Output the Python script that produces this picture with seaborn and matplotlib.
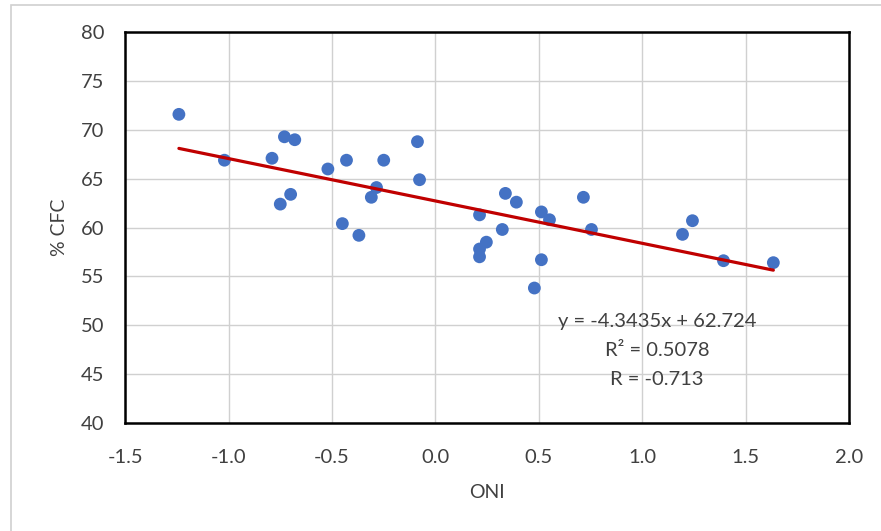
import matplotlib
matplotlib.use("Agg")
import matplotlib.pyplot as plt
import seaborn as sns
import numpy as np
import pandas as pd
from matplotlib.patches import Rectangle

# ---- data ----
oni = [-1.24, -1.02, -0.79, -0.75, -0.73, -0.70, -0.68, -0.52, -0.45, -0.43,
       -0.37, -0.31, -0.285, -0.25, -0.087, -0.077, 0.213, 0.213, 0.213, 0.246,
       0.323, 0.338, 0.391, 0.478, 0.512, 0.512, 0.551, 0.715, 0.754, 1.194,
       1.242, 1.392, 1.633]
cfc = [71.6, 66.9, 67.1, 62.4, 69.3, 63.4, 69.0, 66.0, 60.4, 66.9,
       59.2, 63.1, 64.1, 66.9, 68.8, 64.9, 61.3, 57.8, 57.0, 58.5,
       59.8, 63.5, 62.6, 53.8, 61.6, 56.7, 60.8, 63.1, 59.8, 59.3,
       60.7, 56.6, 56.4]
slope = -4.3435
intercept = 62.724
r_squared = 0.5078
r_value = -0.713
x_ticks = [-1.5, -1.0, -0.5, 0.0, 0.5, 1.0, 1.5, 2.0]
y_ticks = [40, 45, 50, 55, 60, 65, 70, 75, 80]

df = pd.DataFrame({"ONI": oni, "CFC": cfc})
trend_x = np.array([min(oni), max(oni)])
trend = pd.DataFrame({"ONI": trend_x, "CFC": slope * trend_x + intercept})

sns.set_theme(style="white")
plt.rcParams["font.family"] = ["Lato", "DejaVu Sans"]
txt = "#404040"

fig = plt.figure(figsize=(8.81, 5.31), dpi=100)
ax = fig.add_axes([0.142, 0.204, 0.822, 0.735])

# light outer frame
fig.patches.append(Rectangle((11 / 881, -0.05), 1.2, 1 - 5 / 531 + 0.05,
                             transform=fig.transFigure, fill=False,
                             edgecolor="#d0d0d0", linewidth=1.2, zorder=0))

sns.scatterplot(data=df, x="ONI", y="CFC", ax=ax, color="#4472C4", s=85,
                edgecolor="none", zorder=3)
sns.lineplot(data=trend, x="ONI", y="CFC", ax=ax, color="#C00000",
             linewidth=2.3, zorder=4)

ax.set_xlim(-1.5, 2.0)
ax.set_ylim(40, 80)
ax.set_xticks(x_ticks)
ax.set_xticklabels([f"{v:.1f}" for v in x_ticks])
ax.set_yticks(y_ticks)
ax.set_yticklabels([str(v) for v in y_ticks])
ax.grid(True, color="#d0d0d0", linewidth=1.0)
ax.set_axisbelow(True)
for sp in ax.spines.values():
    sp.set_color("black")
    sp.set_linewidth(1.8)
ax.tick_params(axis="both", length=0, labelsize=14.5, colors=txt)
ax.tick_params(axis="x", pad=19)
ax.tick_params(axis="y", pad=15)
ax.set_xlabel("ONI", fontsize=14, color=txt, labelpad=13)
ax.set_ylabel("% CFC", fontsize=14, color=txt, labelpad=9)

eq = f"y = {slope}x + {intercept}"
ax.text(1.07, 50.4, eq, fontsize=14.5, color=txt, ha="center", va="center")
ax.text(1.07, 47.4, f"R² = {r_squared}", fontsize=14.5, color=txt,
        ha="center", va="center")
ax.text(1.07, 44.4, f"R = {r_value}", fontsize=14.5, color=txt,
        ha="center", va="center")

fig.savefig("out.png", dpi=100, facecolor="white")
